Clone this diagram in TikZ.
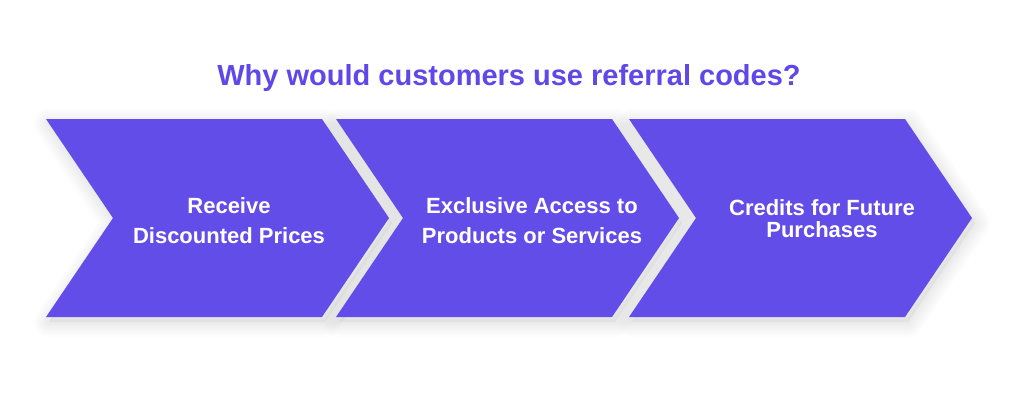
\documentclass[tikz,border=0pt]{standalone}
\usepackage{fontspec}
\setmainfont{Liberation Sans}
\definecolor{chevfill}{HTML}{634DE8}
\definecolor{titlecol}{HTML}{5F48E8}
\tikzset{
  chevbody/.style={fill=chevfill, draw=none},
  shadowlayer/.style={draw=black, line width=#1, line join=round, draw opacity=0.009},
  chevtext/.style={text=white, font=\bfseries\fontsize{22}{30}\selectfont, align=center, inner sep=0pt},
  titletext/.style={text=titlecol, font=\bfseries\fontsize{29}{32}\selectfont, inner sep=0pt}
}
\newcommand{\chevpath}[1]{(#1,119) -- ({#1+276},119) -- ({#1+343},218) -- ({#1+276},317) -- (#1,317) -- ({#1+67},218) -- cycle}
\begin{document}
\begin{tikzpicture}[x=1pt,y=-1pt]
\useasboundingbox (0,0) rectangle (1024,397);
\fill[white] (0,0) rectangle (1024,397);
% soft shadows first
\foreach \L in {46,336,629}{
  \foreach \w in {3,6,9,12,15,18,21,24,27,30}{
    \path[shadowlayer=\w pt, shift={(3,5)}] \chevpath{\L};
  }
  \path[fill=black, fill opacity=0.04, shift={(3,5)}] \chevpath{\L};
}
% bodies
\foreach \L/\n in {46/a,336/b,629/c}{
  \path[chevbody] (\L,119) coordinate (\n-tl) -- ({\L+276},119) -- ({\L+343},218) coordinate (\n-tip) -- ({\L+276},317) -- (\L,317) -- ({\L+67},218) coordinate (\n-notch) -- cycle;
}
\node[titletext] (title) at (509,77.5) {Why would customers use referral codes?};
\node[chevtext] (t1) at (229,220.5) {Receive\\Discounted Prices};
\node[chevtext] (t2) at (532,220.5) {Exclusive Access to\\Products or Services};
\node[chevtext, font=\bfseries\fontsize{22}{22}\selectfont] (t3) at (822,218.5) {Credits for Future\\Purchases};
\end{tikzpicture}
\end{document}
